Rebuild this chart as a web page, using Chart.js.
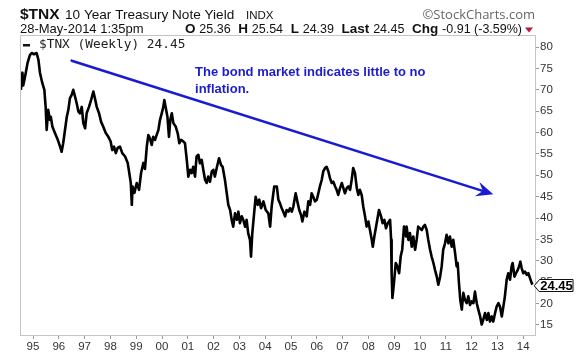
<!DOCTYPE html>
<html>
<head>
<meta charset="utf-8">
<script src="https://cdn.jsdelivr.net/npm/chart.js@4/dist/chart.umd.min.js"></script>
<style>
html,body{margin:0;padding:0;background:#fff;}
#wrap{width:576px;height:356px;position:relative;}
canvas{display:block;}
</style>
</head>
<body>
<div id="wrap"><canvas id="c" width="576" height="356"></canvas></div>
<script>
// ---- Data (decimal year, $TNX weekly value) ----
const dates = [
1994.53,1994.59,1994.62,1994.69,1994.79,1994.88,1994.95,1995.04,1995.14,1995.21,1995.27,1995.36,1995.44,1995.49,1995.53,1995.59,1995.65,1995.69,1995.75,1995.85,1995.96,
1996.05,1996.11,1996.17,1996.24,1996.31,1996.37,1996.43,1996.50,1996.56,1996.63,1996.69,1996.76,1996.82,1996.89,1996.95,
1997.02,1997.08,1997.17,1997.25,1997.34,1997.40,1997.47,1997.56,1997.64,1997.72,1997.82,1997.92,
1998.01,1998.07,1998.14,1998.21,1998.28,1998.37,1998.46,1998.57,1998.67,1998.73,1998.79,1998.83,1998.86,1998.93,
1999.02,1999.11,1999.19,1999.28,1999.34,1999.41,1999.47,1999.53,1999.60,1999.66,1999.73,1999.79,1999.86,1999.92,1999.99,
2000.05,2000.09,2000.14,2000.21,2000.27,2000.32,2000.38,2000.44,2000.53,2000.61,2000.67,2000.74,2000.83,2000.89,2000.96,
2001.02,2001.09,2001.15,2001.21,2001.28,2001.34,2001.41,2001.47,2001.54,2001.60,2001.67,2001.73,2001.79,2001.86,2001.93,2001.99,
2002.05,2002.12,2002.21,2002.29,2002.35,2002.44,2002.51,2002.57,2002.64,2002.70,2002.76,2002.83,2002.90,2002.96,
2003.02,2003.09,2003.15,2003.22,2003.28,2003.34,2003.41,2003.45,2003.50,2003.57,2003.63,2003.71,2003.77,2003.84,2003.93,
2004.02,2004.12,2004.19,2004.25,2004.35,2004.45,2004.51,2004.57,2004.64,2004.70,2004.77,2004.83,2004.90,2004.96,
2005.03,2005.09,2005.18,2005.26,2005.32,2005.39,2005.44,2005.52,2005.61,2005.67,2005.74,2005.80,2005.86,2005.93,
2006.00,2006.06,2006.12,2006.19,2006.25,2006.32,2006.38,2006.45,2006.51,2006.58,2006.64,2006.71,2006.77,2006.83,2006.90,2006.97,
2007.03,2007.09,2007.16,2007.22,2007.29,2007.35,2007.41,2007.48,2007.55,2007.61,2007.67,2007.74,2007.80,2007.87,2007.93,
2008.00,2008.06,2008.13,2008.17,2008.23,2008.32,2008.41,2008.49,2008.55,2008.62,2008.68,2008.75,2008.84,2008.88,2008.90,2008.93,2008.99,
2009.06,2009.12,2009.19,2009.25,2009.31,2009.38,2009.46,2009.48,2009.55,2009.61,2009.68,2009.74,2009.81,2009.87,2009.93,
2010.00,2010.07,2010.13,2010.19,2010.26,2010.32,2010.39,2010.45,2010.52,2010.58,2010.65,2010.71,2010.78,2010.84,2010.90,2010.97,
2011.03,2011.10,2011.16,2011.23,2011.29,2011.36,2011.42,2011.46,2011.51,2011.56,2011.62,2011.68,2011.74,2011.81,2011.87,2011.94,
2012.00,2012.07,2012.13,2012.20,2012.26,2012.33,2012.39,2012.45,2012.52,2012.59,2012.65,2012.71,2012.78,2012.84,2012.91,2012.97,
2013.04,2013.10,2013.17,2013.23,2013.29,2013.36,2013.42,2013.49,2013.55,2013.59,2013.66,2013.72,2013.79,2013.84,2013.89,2013.94,
2014.00,2014.07,2014.14,2014.20,2014.26,2014.33,2014.36
];
const tnx = [
70.0,74.0,71.0,73.0,76.3,78.1,78.6,78.3,78.6,77.0,74.0,71.6,70.0,66.0,60.6,65.3,63.0,63.7,61.4,59.9,58.3,
56.7,55.5,57.5,60.6,63.7,65.3,68.0,68.8,70.0,68.4,66.9,64.9,64.5,66.0,62.2,
61.0,64.5,66.0,67.6,69.6,68.0,66.0,64.5,62.5,61.4,59.9,59.0,
57.9,55.9,56.7,55.2,56.4,56.7,55.2,54.4,52.9,50.6,48.2,43.1,47.4,45.9,
48.2,46.6,50.6,52.9,51.5,56.7,59.4,58.7,57.1,59.0,58.3,59.4,60.6,62.9,64.5,
66.0,67.6,66.0,63.7,59.0,62.9,64.5,62.2,61.4,59.8,57.5,58.3,57.9,57.5,53.6,
49.7,51.3,50.5,52.0,49.7,54.4,54.8,52.8,53.6,51.3,48.9,48.2,49.7,48.5,50.9,51.3,
49.7,51.7,54.0,52.4,52.0,48.9,45.8,43.1,41.9,39.6,38.0,41.1,39.6,41.5,
38.8,40.4,39.6,38.0,39.6,36.5,34.9,31.0,36.5,41.1,45.0,43.1,44.3,42.3,43.9,
41.9,41.1,38.0,42.7,47.4,47.4,44.3,43.5,42.3,41.5,40.4,41.9,41.5,42.3,
41.5,42.7,45.8,43.5,41.9,40.7,39.2,41.5,40.4,43.9,43.1,45.8,45.0,43.9,
44.3,45.8,47.4,48.9,50.9,51.7,52.0,50.9,49.3,48.2,48.5,47.4,46.6,45.4,47.0,48.2,
47.0,45.8,47.0,47.4,46.6,48.9,51.7,50.5,47.0,45.4,46.6,45.4,42.7,40.4,38.0,
39.2,37.2,34.9,33.3,35.7,38.8,41.9,40.4,38.8,39.6,37.6,38.8,39.6,34.9,27.1,21.3,24.8,
29.5,28.7,27.1,31.0,32.6,38.0,35.7,38.0,34.9,36.5,33.3,35.7,32.6,34.9,38.0,
37.6,37.2,38.0,38.4,37.2,34.9,32.6,31.0,29.5,27.9,26.3,24.4,26.3,28.7,32.6,34.1,
36.1,34.1,35.7,33.3,34.9,31.8,28.7,29.5,24.8,20.9,18.6,22.5,20.9,20.1,21.7,19.7,
20.5,20.1,22.8,20.1,18.6,17.0,15.1,16.2,17.8,16.2,17.8,15.8,17.0,15.8,17.8,19.3,
20.1,19.3,17.0,19.3,21.7,25.6,27.1,25.6,28.7,29.5,26.3,27.1,27.9,28.7,29.8,28.3,
27.1,27.5,26.7,27.1,26.0,24.8,24.45
];
const yearTicks = [1995,1996,1997,1998,1999,2000,2001,2002,2003,2004,2005,2006,2007,2008,2009,2010,2011,2012,2013,2014];
const valueTicks = [15,20,25,30,35,40,45,50,55,60,65,70,75,80];
const seriesLabel = '$TNX (Weekly)';
const lastValue = 24.45;
const quoteLabels = ['O', 'H', 'L', 'Last', 'Chg'];
const quoteValues = ['25.36', '25.54', '24.39', '24.45', '-0.91 (-3.59%)'];
const arrowFrom = [1996.50, 76.80];
const arrowTo = [2012.84, 45.56];
const noteAnchor = [2001.28, 73.22];
const noteLines = ['The bond market indicates little to no', 'inflation.'];

const points = dates.map((d, i) => ({x: d, y: tnx[i]}));

const overlay = {
  id: 'overlay',
  beforeDraw(chart) {
    const ctx = chart.ctx;
    ctx.save();
    ctx.fillStyle = '#fff';
    ctx.fillRect(0, 0, chart.width, chart.height);
    ctx.restore();
  },
  afterDraw(chart) {
    const ctx = chart.ctx;
    const xs = chart.scales.x, ys = chart.scales.y;
    const a = chart.chartArea;
    ctx.save();
    // plot frame
    ctx.strokeStyle = '#c4c4c4';
    ctx.lineWidth = 1;
    ctx.strokeRect(a.left + 0.5, a.top + 0.5, a.right - a.left, a.bottom - a.top);

    // header line 1
    ctx.textBaseline = 'alphabetic';
    ctx.fillStyle = '#111';
    ctx.font = 'bold 15.5px "Liberation Sans", Arial, sans-serif';
    ctx.fillText('$TNX', 20, 19);
    ctx.font = '13.6px "Liberation Sans", Arial, sans-serif';
    ctx.fillText('10 Year Treasury Note Yield', 65, 19);
    ctx.font = '11.5px "Liberation Sans", Arial, sans-serif';
    ctx.fillText('INDX', 246, 19);
    ctx.fillStyle = '#666';
    ctx.font = '13px "Open Sans", "Noto Sans", sans-serif';
    ctx.textAlign = 'right';
    ctx.fillText('\u00A9StockCharts.com', 535, 19);
    ctx.textAlign = 'left';

    // header line 2
    ctx.fillStyle = '#111';
    const y2 = 33;
    ctx.font = '13px "Liberation Sans", Arial, sans-serif';
    ctx.fillText('28-May-2014 1:35pm', 20, y2);
    const reg = '12.5px "Liberation Sans", Arial, sans-serif';
    const bold = 'bold 13.5px "Liberation Sans", Arial, sans-serif';
    let W = 0;
    quoteLabels.forEach((t, i) => {
      ctx.font = bold; W += ctx.measureText(t).width;
      ctx.font = reg; W += ctx.measureText(quoteValues[i]).width;
    });
    const startX = 185, endX = 522;
    const g = (endX - startX - W) / 13;
    let cx = startX;
    quoteLabels.forEach((t, i) => {
      ctx.font = bold; ctx.fillText(t, cx, y2); cx += ctx.measureText(t).width + g;
      ctx.font = reg; ctx.fillText(quoteValues[i], cx, y2); cx += ctx.measureText(quoteValues[i]).width + 2 * g;
    });
    // red down triangle
    ctx.fillStyle = '#c0143c';
    ctx.beginPath();
    ctx.moveTo(525, 27.5); ctx.lineTo(533, 27.5); ctx.lineTo(529, 32.5); ctx.closePath();
    ctx.fill();

    // legend inside plot
    ctx.fillStyle = '#111';
    ctx.fillRect(23, 44, 7, 2.5);
    ctx.font = '12.8px "DejaVu Sans Mono", monospace';
    ctx.textBaseline = 'middle';
    ctx.fillStyle = '#222';
    ctx.fillText(seriesLabel + ' ' + lastValue.toFixed(2), 39, 45);

    // annotation arrow
    const x1 = xs.getPixelForValue(arrowFrom[0]), y1 = ys.getPixelForValue(arrowFrom[1]);
    const x2 = xs.getPixelForValue(arrowTo[0]), y2b = ys.getPixelForValue(arrowTo[1]);
    const ang = Math.atan2(y2b - y1, x2 - x1);
    const blue = '#1a1ad2';
    ctx.strokeStyle = blue; ctx.fillStyle = blue;
    ctx.lineWidth = 2.6;
    ctx.lineCap = 'round';
    ctx.beginPath();
    ctx.moveTo(x1, y1);
    ctx.lineTo(x2 - 8 * Math.cos(ang), y2b - 8 * Math.sin(ang));
    ctx.stroke();
    const L = 17, HW = 7.5;
    const bx = x2 - L * Math.cos(ang), by = y2b - L * Math.sin(ang);
    const nx = -Math.sin(ang), ny = Math.cos(ang);
    const ix = x2 - 11 * Math.cos(ang), iy = y2b - 11 * Math.sin(ang);
    ctx.beginPath();
    ctx.moveTo(x2, y2b);
    ctx.lineTo(bx + nx * HW, by + ny * HW);
    ctx.lineTo(ix, iy);
    ctx.lineTo(bx - nx * HW, by - ny * HW);
    ctx.closePath();
    ctx.fill();

    // annotation text
    ctx.textBaseline = 'alphabetic';
    ctx.font = 'bold 13px "Liberation Sans", Arial, sans-serif';
    ctx.fillStyle = '#1c1ccc';
    const tx = xs.getPixelForValue(noteAnchor[0]), ty = ys.getPixelForValue(noteAnchor[1]);
    noteLines.forEach((t, i) => ctx.fillText(t, tx, ty + i * 17));

    // last value tag
    const ly = Math.round(ys.getPixelForValue(lastValue)) + 0.5;
    const tip = a.right - 0.5;
    ctx.beginPath();
    ctx.moveTo(tip, ly);
    ctx.lineTo(tip + 5, ly - 6);
    ctx.lineTo(573, ly - 6);
    ctx.lineTo(573, ly + 6);
    ctx.lineTo(tip + 5, ly + 6);
    ctx.closePath();
    ctx.fillStyle = '#fff';
    ctx.fill();
    ctx.strokeStyle = '#111';
    ctx.lineWidth = 1;
    ctx.stroke();
    ctx.fillStyle = '#000';
    ctx.font = 'bold 13px "Liberation Sans", Arial, sans-serif';
    ctx.textAlign = 'center';
    ctx.textBaseline = 'middle';
    ctx.fillText(lastValue.toFixed(2), 556.5, ly + 0.5);
    ctx.restore();
  }
};

new Chart(document.getElementById('c'), {
  type: 'line',
  data: {
    datasets: [{
      label: seriesLabel,
      data: points,
      borderColor: '#000',
      borderWidth: 2.6,
      borderJoinStyle: 'round',
      pointRadius: 0,
      tension: 0,
      fill: false
    }]
  },
  options: {
    responsive: false,
    animation: false,
    events: [],
    layout: {padding: {left: 20, top: 35, right: 0, bottom: 0}},
    plugins: {legend: {display: false}, tooltip: {enabled: false}, title: {display: false}},
    scales: {
      x: {
        type: 'linear',
        position: 'bottom',
        min: 1994.496,
        max: 2014.457,
        afterBuildTicks: s => { s.ticks = yearTicks.map(v => ({value: v})); },
        afterFit: s => { s.height = 21; },
        grid: {drawOnChartArea: false, drawTicks: true, tickLength: 4, color: '#999'},
        border: {display: true, color: '#c4c4c4'},
        ticks: {
          autoSkip: false, maxRotation: 0, minRotation: 0, padding: 1,
          color: '#333',
          font: {family: '"Liberation Sans", Arial, sans-serif', size: 11.5},
          callback: v => String(v).slice(2)
        }
      },
      y: {
        type: 'linear',
        position: 'right',
        min: 12.66,
        max: 82.81,
        afterBuildTicks: s => { s.ticks = valueTicks.map(v => ({value: v})); },
        afterFit: s => { s.width = 41; },
        grid: {drawOnChartArea: false, drawTicks: true, tickLength: 4, color: '#999'},
        border: {display: true, color: '#c4c4c4'},
        ticks: {
          padding: 1,
          color: '#333',
          font: {family: '"Liberation Sans", Arial, sans-serif', size: 11.5},
          callback: v => String(v)
        }
      }
    }
  },
  plugins: [overlay]
});
</script>
</body>
</html>
